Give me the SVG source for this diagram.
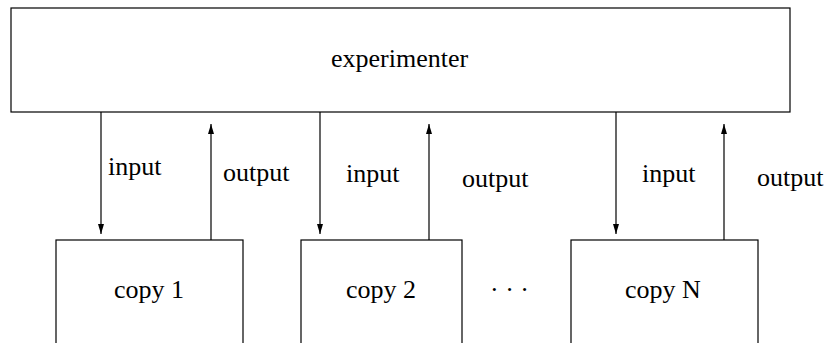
<svg xmlns="http://www.w3.org/2000/svg" width="827" height="343" viewBox="0 0 827 343">
<style>
.box{fill:#fff;stroke:#000;stroke-width:1.2}
.t{font-family:'Liberation Serif','DejaVu Serif',serif;font-size:26px;fill:#000}
.c{stroke:#000;stroke-width:1.2;fill:none;marker-end:url(#ah)}
</style>
<defs>
<marker id="ah" viewBox="0 0 10 10" refX="10" refY="5" markerWidth="10" markerHeight="10" markerUnits="userSpaceOnUse" orient="auto">
<path d="M0,2 L10,5 L0,8 Z" fill="#000"/>
</marker>
</defs>
<rect width="827" height="343" fill="#fff"/>
<g id="experimenter">
<rect class="box" x="11" y="8" width="779" height="104"/>
<text class="t" font-family="Liberation Serif" x="331" y="67">experimenter</text>
</g>
<g id="copy1">
<rect class="box" x="56" y="240" width="187" height="120"/>
<text class="t" font-family="Liberation Serif" x="114" y="298">copy 1</text>
</g>
<g id="copy2">
<rect class="box" x="301" y="240" width="161" height="120"/>
<text class="t" font-family="Liberation Serif" x="346" y="298">copy 2</text>
</g>
<g id="copyN">
<rect class="box" x="571" y="240" width="187" height="120"/>
<text class="t" font-family="Liberation Serif" x="625" y="298">copy N</text>
</g>
<text id="dots" class="t" font-family="Liberation Serif" x="490" y="298">· · ·</text>
<g id="connectors">
<line class="c" x1="101" y1="112" x2="101" y2="234"/>
<line class="c" x1="211" y1="240" x2="211" y2="124"/>
<line class="c" x1="320" y1="112" x2="320" y2="234"/>
<line class="c" x1="429" y1="240" x2="429" y2="124"/>
<line class="c" x1="616" y1="112" x2="616" y2="234"/>
<line class="c" x1="724" y1="240" x2="724" y2="124"/>
<text class="t" font-family="Liberation Serif" x="108" y="175">input</text>
<text class="t" font-family="Liberation Serif" x="223" y="181">output</text>
<text class="t" font-family="Liberation Serif" x="346" y="182">input</text>
<text class="t" font-family="Liberation Serif" x="462" y="187">output</text>
<text class="t" font-family="Liberation Serif" x="642" y="182">input</text>
<text class="t" font-family="Liberation Serif" x="757" y="186">output</text>
</g>
</svg>
